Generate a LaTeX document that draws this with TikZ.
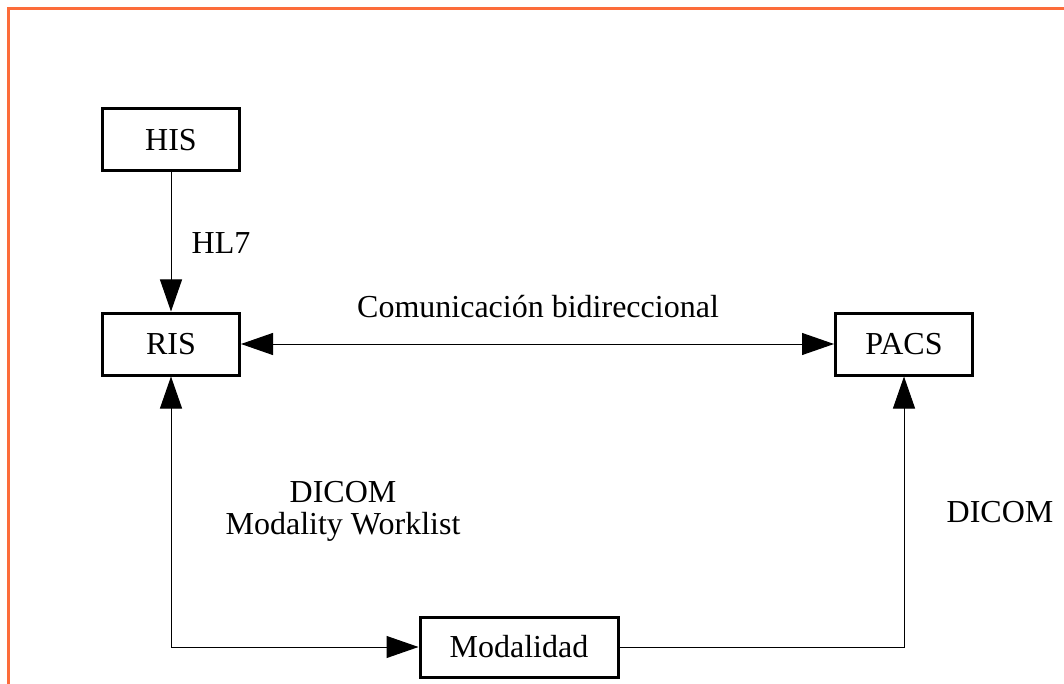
\documentclass[tikz,border=0pt]{standalone}
\usepackage{fontspec}
\setmainfont{Liberation Serif}
\usepackage{xcolor}
\usepackage{tikz}
\usetikzlibrary{arrows.meta,positioning,calc}
\definecolor{frameorange}{RGB}{252,108,58}
\tikzset{
  sysbox/.style={
    rectangle,
    draw=black,
    line width=3pt,
    minimum width=137pt,
    minimum height=62pt,
    inner sep=0pt,
    align=center,
    font=\fontsize{32}{33}\selectfont
  },
  lbl/.style={
    align=center,
    inner sep=0pt,
    font=\fontsize{32}{32}\selectfont
  },
  flow/.style={-{Triangle[length=32pt,width=22pt]}, line width=1pt, black},
  biflow/.style={{Triangle[length=32pt,width=22pt]}-{Triangle[length=32pt,width=22pt]}, line width=1pt, black}
}

\begin{document}
\begin{tikzpicture}[x=1pt,y=-1pt]
\useasboundingbox (0,0) rectangle (1064,684);
% marco
\draw[frameorange, line width=3pt] (8.5,700) -- (8.5,8.5) -- (1080,8.5);
\node[sysbox] (his) at (171,140) {HIS};
\node[sysbox] (ris) at (171,344) {RIS};
\node[sysbox] (pacs) at (904,344) {PACS};
\node[sysbox, minimum width=198pt, minimum height=60pt] (mod) at (519,647) {Modalidad};
\node[lbl] (hl7) at (221,243) {HL7};
\node[lbl] (bidir) at (538,307) {Comunicación bidireccional};
\node[lbl] (mwl) at (343,511) {DICOM\\Modality Worklist};
\node[lbl] (dicom) at (1000,512) {DICOM};
\draw[flow] (his) -- (ris);
\draw[biflow] (ris) -- (pacs);
\draw[biflow] (ris) |- (mod);
\draw[flow] (mod) -| (pacs);
\end{tikzpicture}
\end{document}
